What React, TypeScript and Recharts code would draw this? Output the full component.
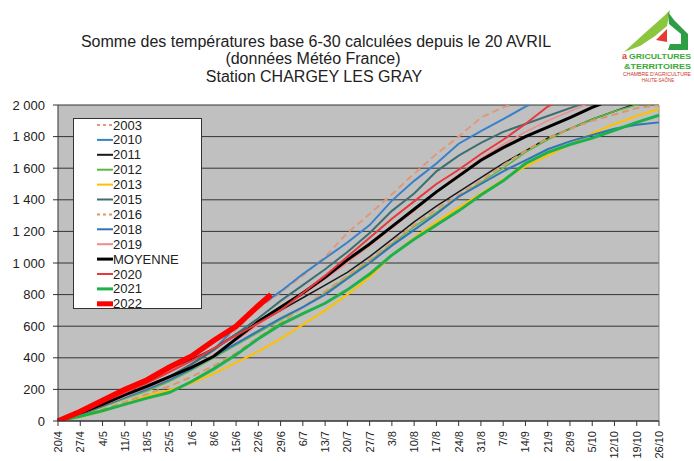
import React from "react";
import { LineChart, Line, XAxis, YAxis, CartesianGrid, ReferenceLine } from "recharts";

// semaines depuis le 20 avril
const WEEK_LABELS = [
  "20/4", "27/4", "4/5", "11/5", "18/5", "25/5", "1/6", "8/6", "15/6", "22/6",
  "29/6", "6/7", "13/7", "20/7", "27/7", "3/8", "10/8", "17/8", "24/8", "31/8",
  "7/9", "14/9", "21/9", "28/9", "5/10", "12/10", "19/10", "26/10"
];
const WEEK_DAYS = [
  0, 7, 14, 21, 28, 35, 42, 49, 56, 63, 70, 77, 84, 91, 98, 105, 112, 119, 126,
  133, 140, 147, 154, 161, 168, 175, 182, 189
];
const DAYS_2022 = [0, 7, 14, 21, 28, 35, 42, 49, 56, 63, 67];
const Y_TICKS = [0, 200, 400, 600, 800, 1000, 1200, 1400, 1600, 1800, 2000];

const S2003 = [0, 40, 95, 150, 210, 280, 360, 450, 580, 710, 815, 920, 1040, 1190, 1310, 1435, 1565, 1690, 1800, 1920, 1985, 2030];
const S2010 = [0, 45, 100, 160, 215, 280, 360, 450, 600, 720, 820, 930, 1030, 1130, 1240, 1395, 1520, 1630, 1755, 1835, 1910, 1990, 2050];
const S2011 = [0, 55, 125, 200, 270, 330, 390, 460, 550, 620, 700, 780, 860, 940, 1040, 1150, 1260, 1360, 1450, 1540, 1630, 1710, 1790, 1850, 1910, 1960, 2010];
const S2012 = [0, 40, 90, 140, 190, 250, 320, 400, 480, 560, 640, 720, 810, 910, 1010, 1120, 1230, 1320, 1420, 1510, 1600, 1700, 1780, 1850, 1910, 1960, 2000, 2030];
const S2013 = [0, 25, 60, 110, 160, 195, 240, 300, 370, 440, 520, 610, 700, 800, 910, 1050, 1160, 1260, 1350, 1440, 1530, 1610, 1680, 1750, 1820, 1880, 1930, 1975];
const S2015 = [0, 40, 95, 150, 210, 280, 360, 450, 550, 650, 760, 860, 960, 1070, 1190, 1330, 1440, 1580, 1680, 1760, 1830, 1880, 1930, 1980, 2030];
const S2016 = [0, 30, 75, 120, 170, 220, 280, 350, 430, 530, 620, 720, 820, 920, 1020, 1130, 1240, 1340, 1430, 1520, 1620, 1710, 1790, 1850, 1900, 1940, 1980, 2000];
const S2018 = [0, 45, 100, 150, 200, 260, 330, 410, 490, 570, 650, 720, 800, 900, 1000, 1110, 1210, 1310, 1420, 1500, 1580, 1650, 1720, 1770, 1810, 1850, 1875, 1890];
const S2019 = [0, 45, 100, 155, 210, 270, 340, 420, 510, 610, 710, 800, 900, 1000, 1110, 1220, 1330, 1450, 1560, 1660, 1750, 1830, 1900, 1960, 2020];
const MOYENNE = [0, 50, 105, 165, 220, 280, 340, 410, 520, 630, 720, 810, 910, 1020, 1120, 1230, 1340, 1450, 1550, 1650, 1730, 1800, 1860, 1920, 1985, 2040];
const S2020 = [0, 50, 120, 180, 240, 310, 380, 460, 540, 620, 700, 810, 920, 1040, 1160, 1280, 1390, 1500, 1590, 1690, 1780, 1880, 1990, 2060];
const S2021 = [0, 30, 65, 105, 145, 180, 250, 330, 420, 520, 610, 680, 745, 830, 930, 1050, 1150, 1240, 1330, 1430, 1520, 1630, 1700, 1750, 1790, 1840, 1890, 1935];
const S2022 = [0, 60, 130, 200, 260, 340, 410, 510, 600, 730, 800];

const SERIES = [
  { key: "s2003", name: "2003", values: S2003, color: "#e3977a", width: 2, dash: "7 4" },
  { key: "s2010", name: "2010", values: S2010, color: "#3a80c9", width: 2 },
  { key: "s2011", name: "2011", values: S2011, color: "#1a1a1a", width: 1.5 },
  { key: "s2012", name: "2012", values: S2012, color: "#5cb845", width: 1.5 },
  { key: "s2013", name: "2013", values: S2013, color: "#ffc000", width: 2 },
  { key: "s2015", name: "2015", values: S2015, color: "#3e6e72", width: 2 },
  { key: "s2016", name: "2016", values: S2016, color: "#d99a62", width: 2, dash: "7 4" },
  { key: "s2018", name: "2018", values: S2018, color: "#2f75b8", width: 2 },
  { key: "s2019", name: "2019", values: S2019, color: "#f08a8a", width: 1.5 },
  { key: "moy", name: "MOYENNE", values: MOYENNE, color: "#000000", width: 3 },
  { key: "s2020", name: "2020", values: S2020, color: "#e8383d", width: 2 },
  { key: "s2021", name: "2021", values: S2021, color: "#1db14b", width: 3 },
  { key: "s2022", name: "2022", values: S2022, color: "#ff0000", width: 5.5, days: DAYS_2022 }
];

const allDays = Array.from(new Set([...WEEK_DAYS, ...DAYS_2022])).sort((a, b) => a - b);
const data = allDays.map((day) => {
  const row: Record<string, number> = { day };
  SERIES.forEach((s) => {
    const days = s.days || WEEK_DAYS;
    const i = days.indexOf(day);
    if (i >= 0 && i < s.values.length) row[s.key] = s.values[i];
  });
  return row;
});

const FONT = '"Liberation Sans", Arial, sans-serif';

const fmtY = (v: number) =>
  v >= 1000 ? `${Math.floor(v / 1000)} ${String(v % 1000).padStart(3, "0")}` : String(v);

const XTick = (props: any) => {
  const { x, y, payload } = props;
  const label = WEEK_LABELS[WEEK_DAYS.indexOf(payload.value)];
  return (
    <text
      x={x}
      y={y + 1}
      transform={`rotate(-90 ${x} ${y + 1})`}
      textAnchor="end"
      dominantBaseline="central"
      fontSize={11}
      fontFamily={FONT}
      fill="#222"
    >
      {label}
    </text>
  );
};

const Logo = () => (
  <g>
    <polygon points="624,52 646,32 664,16 670,10 667,26 655,36 640,46" fill="#8cc63f" />
    <polygon points="656,40 667,29 667,42" fill="#e63b2e" />
    <polygon points="668,12 674,20 688,34 688,50 668,50 670,44 681,44 681,34 669,24" fill="#2e9e45" />
    <text x={622} y={59} fontSize={9} fontWeight="bold" fontFamily={FONT} fill="#e63b2e">a</text>
    <text x={629} y={59} fontSize={8} fontWeight="bold" fontFamily={FONT} fill="#3aa935" textLength={62} lengthAdjust="spacingAndGlyphs">
      GRICULTURES
    </text>
    <text x={624} y={68.5} fontSize={8} fontWeight="bold" fontFamily={FONT} fill="#3aa935" textLength={67} lengthAdjust="spacingAndGlyphs">
      &amp;TERRITOIRES
    </text>
    <text x={623} y={75.5} fontSize={4.5} fontFamily={FONT} fill="#c8362b" textLength={68} lengthAdjust="spacingAndGlyphs">
      CHAMBRE D'AGRICULTURE
    </text>
    <text x={658} y={82} fontSize={4.5} fontFamily={FONT} fill="#c8362b" textAnchor="middle">
      HAUTE-SAÔNE
    </text>
  </g>
);

const Legend = () => (
  <div
    style={{
      position: "absolute",
      left: 73,
      top: 118,
      width: 129,
      height: 191,
      background: "#fff",
      border: "1px solid #333",
      boxSizing: "border-box"
    }}
  >
    <svg width={129} height={191}>
      {SERIES.map((s, i) => {
        const cy = 6 + i * 14.9;
        return (
          <g key={s.key}>
            <line
              x1={23}
              x2={39}
              y1={cy}
              y2={cy}
              stroke={s.color}
              strokeWidth={s.width > 5 ? 5 : s.width === 3 ? 3 : 2}
              strokeDasharray={s.dash ? "3 3" : undefined}
            />
            <text x={39} y={cy} dominantBaseline="central" fontSize={13} fontFamily={FONT} fill="#222">
              {s.name}
            </text>
          </g>
        );
      })}
    </svg>
  </div>
);

export default function App() {
  return (
    <div style={{ position: "absolute", left: 0, top: 0, width: 694, height: 461, background: "#fff" }}>
      <LineChart width={694} height={461} data={data} margin={{ top: 105, right: 35, bottom: 0, left: 0 }}>
        <CartesianGrid horizontal vertical={false} stroke="#333" fill="#c0c0c0" />
        <XAxis
          dataKey="day"
          type="number"
          domain={[0, 189]}
          ticks={WEEK_DAYS}
          interval={0}
          height={40}
          tickSize={5}
          tickMargin={4}
          tick={<XTick />}
          stroke="#333"
        />
        <YAxis
          domain={[0, 2000]}
          ticks={Y_TICKS}
          allowDataOverflow
          width={58}
          tickSize={5}
          tickMargin={8}
          tickFormatter={fmtY}
          tick={{ fontSize: 13, fontFamily: FONT, fill: "#222" }}
          stroke="#333"
        />
        <ReferenceLine x={189} stroke="#8a8a8a" />
        {SERIES.map((s) => (
          <Line
            key={s.key}
            dataKey={s.key}
            name={s.name}
            type="linear"
            stroke={s.color}
            strokeWidth={s.width}
            strokeDasharray={s.dash}
            dot={false}
            activeDot={false}
            connectNulls
            isAnimationActive={false}
          />
        ))}
      </LineChart>
      <svg width={694} height={461} style={{ position: "absolute", left: 0, top: 0, pointerEvents: "none" }}>
        <g fontFamily={FONT} fontSize={16} fill="#222" textAnchor="middle">
          <text x={316} y={47}>Somme des températures base 6-30 calculées depuis le 20 AVRIL</text>
          <text x={313} y={64}>(données Météo France)</text>
          <text x={314} y={82}>Station CHARGEY LES GRAY</text>
        </g>
        <Logo />
      </svg>
      <Legend />
    </div>
  );
}
